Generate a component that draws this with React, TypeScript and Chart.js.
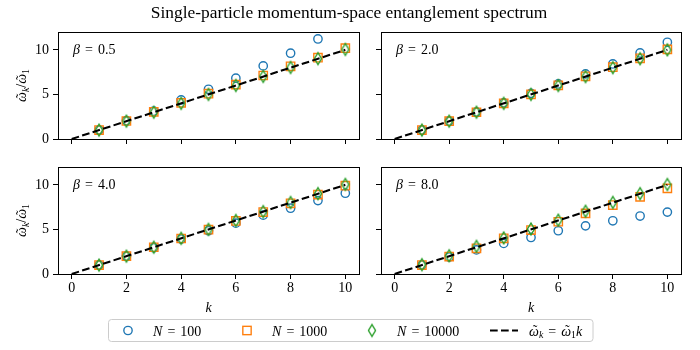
import React, { useEffect, useRef } from 'react';
import { Chart, registerables } from 'chart.js';

Chart.register(...registerables);

// ---------------- data ----------------
const kValues = [1, 2, 3, 4, 5, 6, 7, 8, 9, 10];
const refK = [0, 10];
const refRatio = [0, 10];
const betaLabels = ['0.5', '2.0', '4.0', '8.0'];
const xTickValues = [0, 2, 4, 6, 8, 10];
const yTickValues = [0, 5, 10];
const sizeLabels = ['100', '1000', '10000'];
const titleText = 'Single-particle momentum-space entanglement spectrum';

const beta05_N100 = [1.0, 2.05, 3.12, 4.38, 5.58, 6.82, 8.2, 9.62, 11.22, 12.9];
const beta05_N1000 = [1.0, 2.02, 3.05, 4.05, 5.08, 6.1, 7.12, 8.15, 9.12, 10.18];
const beta05_N10000 = [1.0, 2.0, 3.0, 4.0, 5.0, 6.0, 7.02, 8.02, 9.02, 10.05];

const beta2_N100 = [1.0, 2.0, 3.02, 4.05, 5.12, 6.17, 7.3, 8.42, 9.65, 10.85];
const beta2_N1000 = [1.0, 2.0, 3.0, 4.0, 5.0, 6.02, 7.03, 8.05, 9.05, 10.05];
const beta2_N10000 = [1.0, 2.0, 3.0, 4.0, 5.0, 6.0, 7.0, 8.0, 9.0, 10.0];

const beta4_N100 = [1.0, 1.98, 2.95, 3.92, 4.85, 5.7, 6.6, 7.38, 8.23, 9.06];
const beta4_N1000 = [1.0, 2.0, 3.0, 3.98, 4.97, 5.95, 6.95, 7.93, 8.9, 9.9];
const beta4_N10000 = [1.0, 2.0, 3.0, 4.0, 5.0, 6.0, 7.0, 8.02, 9.02, 10.05];

const beta8_N100 = [1.0, 1.9, 2.7, 3.43, 4.1, 4.85, 5.4, 5.97, 6.5, 6.94];
const beta8_N1000 = [1.0, 1.96, 2.88, 4.0, 4.93, 5.86, 6.8, 7.73, 8.66, 9.6];
const beta8_N10000 = [1.05, 2.05, 3.1, 4.05, 5.05, 6.04, 7.04, 8.03, 9.02, 10.04];

const panelSeries = [
  [beta05_N100, beta05_N1000, beta05_N10000],
  [beta2_N100, beta2_N1000, beta2_N10000],
  [beta4_N100, beta4_N1000, beta4_N10000],
  [beta8_N100, beta8_N1000, beta8_N10000],
];

// ---------------- style ----------------
const BLUE = '#1f77b4';
const ORANGE = '#ff7f0e';
const GREEN = '#2ca02c';
const SERIF = '"Liberation Serif", "DejaVu Serif", serif';
const MARKER_LW = 1.39;

const PANEL_BOXES = [
  { left: 58, right: 359, top: 32, bottom: 139 },
  { left: 381, right: 681, top: 32, bottom: 139 },
  { left: 58, right: 359, top: 167, bottom: 274 },
  { left: 381, right: 681, top: 167, bottom: 274 },
];

type Seg = { t?: string; it?: boolean; sub?: boolean; tilde?: boolean; gap?: number };

function segFont(s: Seg, size: number) {
  const sz = s.sub ? size * 0.7 : size;
  return `${s.it ? 'italic ' : ''}${sz}px ${SERIF}`;
}
function segWidth(ctx: CanvasRenderingContext2D, s: Seg, size: number) {
  if (s.gap) return s.gap * size;
  ctx.font = segFont(s, size);
  return ctx.measureText(s.t || '').width;
}
function drawMath(ctx: CanvasRenderingContext2D, segs: Seg[], x: number, y: number, size: number, align: 'left' | 'center') {
  ctx.save();
  ctx.fillStyle = '#000';
  ctx.textAlign = 'left';
  ctx.textBaseline = 'alphabetic';
  let total = 0;
  for (const s of segs) total += segWidth(ctx, s, size);
  let cx = align === 'center' ? x - total / 2 : x;
  for (const s of segs) {
    const w = segWidth(ctx, s, size);
    if (s.t) {
      ctx.font = segFont(s, size);
      ctx.fillText(s.t, cx, y + (s.sub ? size * 0.2 : 0));
      if (s.tilde) {
        ctx.font = `${size}px ${SERIF}`;
        const tw = ctx.measureText('\u02DC').width;
        ctx.fillText('\u02DC', cx + w / 2 - tw / 2 + size * 0.08, y - size * 0.02);
      }
    }
    cx += w;
  }
  ctx.restore();
}
const EQ: Seg[] = [{ gap: 0.36 }, { t: '=' }, { gap: 0.36 }];
const OMEGA_K: Seg[] = [{ t: '\u03C9', it: true, tilde: true }, { t: 'k', it: true, sub: true }];
const OMEGA_1: Seg[] = [{ t: '\u03C9', it: true, tilde: true }, { t: '1', sub: true }];

function makeDiamond(color: string) {
  const c = document.createElement('canvas');
  c.width = 12;
  c.height = 16;
  const g = c.getContext('2d')!;
  const cx = 6, cy = 8, hw = 3.54, hh = 5.89;
  g.strokeStyle = color;
  g.lineWidth = MARKER_LW;
  g.beginPath();
  g.moveTo(cx, cy - hh);
  g.lineTo(cx + hw, cy);
  g.lineTo(cx, cy + hh);
  g.lineTo(cx - hw, cy);
  g.closePath();
  g.stroke();
  return c;
}

function alignPx(p: number) {
  return Math.round(p - 0.5) + 0.5;
}

const framePlugin = {
  id: 'frame',
  afterDraw(chart: any) {
    const { ctx, chartArea: a } = chart;
    ctx.save();
    ctx.strokeStyle = '#000';
    ctx.lineWidth = 1;
    const l = alignPx(a.left), r = alignPx(a.right), t = alignPx(a.top), b = alignPx(a.bottom);
    ctx.strokeRect(l, t, r - l, b - t);
    ctx.restore();
  },
};

function betaPlugin(label: string) {
  return {
    id: 'betaText',
    afterDraw(chart: any) {
      const { ctx, chartArea: a } = chart;
      drawMath(ctx, [{ t: '\u03B2', it: true }, ...EQ, { t: label }], a.left + 15, a.top + 22, 14, 'left');
    },
  };
}

function panelConfig(i: number, diamond: HTMLCanvasElement): any {
  const row = Math.floor(i / 2);
  const col = i % 2;
  const box = PANEL_BOXES[i];
  const yW = 40;
  const xH = 30;
  const [s100, s1000, s10000] = panelSeries[i];
  const pts = (arr: number[]) => kValues.map((k, j) => ({ x: k, y: arr[j] }));
  return {
    type: 'scatter',
    data: {
      datasets: [
        {
          label: 'ref',
          data: refK.map((k, j) => ({ x: k, y: refRatio[j] })),
          showLine: true,
          borderColor: '#000',
          borderWidth: 2.08,
          borderDash: [7.7, 3.3],
          pointRadius: 0,
          order: 0,
          clip: 0,
          fill: false,
        },
        {
          label: 'N = ' + sizeLabels[2],
          data: pts(s10000),
          pointStyle: diamond,
          pointRadius: 5,
          order: 1,
          clip: 0,
        },
        {
          label: 'N = ' + sizeLabels[1],
          data: pts(s1000),
          pointStyle: 'rect',
          pointRadius: 5.89,
          pointBorderWidth: MARKER_LW,
          pointBorderColor: ORANGE,
          pointBackgroundColor: 'rgba(0,0,0,0)',
          order: 2,
          clip: 0,
        },
        {
          label: 'N = ' + sizeLabels[0],
          data: pts(s100),
          pointStyle: 'circle',
          pointRadius: 4.17,
          pointBorderWidth: MARKER_LW,
          pointBorderColor: BLUE,
          pointBackgroundColor: 'rgba(0,0,0,0)',
          order: 3,
          clip: 0,
        },
      ],
    },
    options: {
      animation: false,
      responsive: false,
      events: [],
      layout: {
        padding: { left: box.left - yW, right: 700 - box.right, top: box.top, bottom: 350 - box.bottom - xH },
      },
      plugins: { legend: { display: false }, tooltip: { enabled: false }, title: { display: false } },
      scales: {
        x: {
          type: 'linear',
          position: 'bottom',
          min: -0.5,
          max: 10.5,
          afterBuildTicks: (s: any) => {
            s.ticks = xTickValues.map((v) => ({ value: v }));
          },
          afterFit: (s: any) => {
            s.height = xH;
          },
          grid: { display: true, drawOnChartArea: false, drawTicks: true, tickLength: 5, color: '#000', lineWidth: 1 },
          border: { display: true, color: '#000', width: 1 },
          ticks: {
            display: row === 1,
            color: '#000',
            font: { family: SERIF, size: 14 },
            padding: 1,
            maxRotation: 0,
            autoSkip: false,
          },
        },
        y: {
          type: 'linear',
          position: 'left',
          min: 0,
          max: 12,
          afterBuildTicks: (s: any) => {
            s.ticks = yTickValues.map((v) => ({ value: v }));
          },
          afterFit: (s: any) => {
            s.width = yW;
          },
          grid: { display: true, drawOnChartArea: false, drawTicks: true, tickLength: 5, color: '#000', lineWidth: 1 },
          border: { display: true, color: '#000', width: 1 },
          ticks: {
            display: col === 0,
            color: '#000',
            font: { family: SERIF, size: 14 },
            padding: 4,
            autoSkip: false,
          },
        },
      },
    },
    plugins: [framePlugin, betaPlugin(betaLabels[i])],
  };
}

function overlayConfig(diamond: HTMLCanvasElement): any {
  const figurePlugin = {
    id: 'figureText',
    afterDraw(chart: any) {
      const ctx: CanvasRenderingContext2D = chart.ctx;
      // title
      ctx.save();
      ctx.fillStyle = '#000';
      ctx.font = `17.4px ${SERIF}`;
      ctx.textAlign = 'center';
      ctx.textBaseline = 'alphabetic';
      ctx.fillText(titleText, 349, 17.5);
      ctx.restore();

      // axis labels
      for (const i of [0, 2]) {
        const b = PANEL_BOXES[i];
        ctx.save();
        ctx.translate(26, (b.top + b.bottom) / 2);
        ctx.rotate(-Math.PI / 2);
        drawMath(ctx, [...OMEGA_K, { t: '/' }, ...OMEGA_1], 0, 0, 14, 'center');
        ctx.restore();
      }
      for (const i of [2, 3]) {
        const b = PANEL_BOXES[i];
        drawMath(ctx, [{ t: 'k', it: true }], (b.left + b.right) / 2, 312, 14, 'center');
      }

      // legend frame
      const lx = 108.5, ly = 319.5, lw = 484.5, lh = 22, rr = 3;
      ctx.save();
      ctx.beginPath();
      ctx.moveTo(lx + rr, ly);
      ctx.lineTo(lx + lw - rr, ly);
      ctx.arcTo(lx + lw, ly, lx + lw, ly + rr, rr);
      ctx.lineTo(lx + lw, ly + lh - rr);
      ctx.arcTo(lx + lw, ly + lh, lx + lw - rr, ly + lh, rr);
      ctx.lineTo(lx + rr, ly + lh);
      ctx.arcTo(lx, ly + lh, lx, ly + lh - rr, rr);
      ctx.lineTo(lx, ly + rr);
      ctx.arcTo(lx, ly, lx + rr, ly, rr);
      ctx.closePath();
      ctx.fillStyle = 'rgba(255,255,255,0.8)';
      ctx.fill();
      ctx.strokeStyle = '#cccccc';
      ctx.lineWidth = 1;
      ctx.stroke();
      ctx.restore();

      const my = 330.5;
      const ty = 335.5;
      ctx.save();
      ctx.lineWidth = MARKER_LW;
      ctx.strokeStyle = BLUE;
      ctx.beginPath();
      ctx.arc(128, my, 4.17, 0, Math.PI * 2);
      ctx.stroke();
      ctx.strokeStyle = ORANGE;
      ctx.strokeRect(247 - 4.17, my - 4.17, 8.33, 8.33);
      ctx.drawImage(diamond, 372 - 6, my - 8);
      ctx.strokeStyle = '#000';
      ctx.lineWidth = 2.08;
      ctx.setLineDash([7.7, 3.3]);
      ctx.beginPath();
      ctx.moveTo(490, my);
      ctx.lineTo(518, my);
      ctx.stroke();
      ctx.restore();

      const nLabel = (v: string): Seg[] => [{ t: 'N', it: true }, ...EQ, { t: v }];
      drawMath(ctx, nLabel(sizeLabels[0]), 153, ty, 14, 'left');
      drawMath(ctx, nLabel(sizeLabels[1]), 272, ty, 14, 'left');
      drawMath(ctx, nLabel(sizeLabels[2]), 397, ty, 14, 'left');
      drawMath(ctx, [...OMEGA_K, ...EQ, ...OMEGA_1, { t: 'k', it: true }], 529, ty, 14, 'left');
    },
  };
  return {
    type: 'scatter',
    data: { datasets: [] },
    options: {
      animation: false,
      responsive: false,
      events: [],
      plugins: { legend: { display: false }, tooltip: { enabled: false } },
      scales: { x: { display: false }, y: { display: false } },
    },
    plugins: [figurePlugin],
  };
}

export default function App() {
  const canvases = useRef<(HTMLCanvasElement | null)[]>([]);
  useEffect(() => {
    const diamond = makeDiamond(GREEN);
    const charts: Chart[] = [];
    for (let i = 0; i < 4; i++) {
      const c = canvases.current[i];
      if (c) charts.push(new Chart(c, panelConfig(i, diamond)));
    }
    const o = canvases.current[4];
    if (o) charts.push(new Chart(o, overlayConfig(diamond)));
    return () => charts.forEach((c) => c.destroy());
  }, []);
  return (
    <div style={{ position: 'fixed', left: 0, top: 0, width: 700, height: 350, background: '#fff' }}>
      {[0, 1, 2, 3, 4].map((i) => (
        <canvas
          key={i}
          ref={(el) => {
            canvases.current[i] = el;
          }}
          width={700}
          height={350}
          style={{ position: 'absolute', left: 0, top: 0, width: 700, height: 350 }}
        />
      ))}
    </div>
  );
}
